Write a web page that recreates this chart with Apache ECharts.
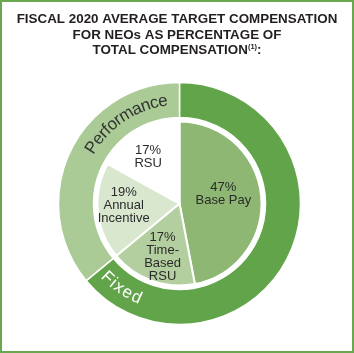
<!DOCTYPE html>
<html>
<head>
<meta charset="utf-8">
<script src="https://cdn.jsdelivr.net/npm/echarts@6/dist/echarts.min.js"></script>
<style>
  html, body { margin: 0; padding: 0; background: #fff; }
  #chart { width: 354px; height: 353px; }
</style>
</head>
<body>
<div id="chart"></div>
<script>
// 数据
const innerNames = ['Base Pay', 'Time-\nBased\nRSU', 'Annual\nIncentive', 'RSU']
const innerValues = [47, 17, 19, 17]
const outerNames = ['Fixed', 'Performance']
const outerValues = [64, 36]

// 样式
const innerColors = ['#8db772', '#b3cf9f', '#d9e7cf', '#ffffff']
const outerColors = ['#62a449', '#aacb96']
const labelShift = [[0, -5], [-2, 12], [-12, -2], [-9, -9]]
const CX = 179.5
const CY = 203.5
const FONT = 'Liberation Sans, Arial, sans-serif'

const chart = echarts.init(document.getElementById('chart'))

// 弧形文字
const measureCtx = document.createElement('canvas').getContext('2d')
const arcText = (str, centerDeg, r, size, color, bottom, spacing) => {
  measureCtx.font = size + 'px ' + FONT
  const widths = str.split('').map(ch => measureCtx.measureText(ch).width + spacing)
  const total = widths.reduce((a, b) => a + b, 0)
  const c = centerDeg * Math.PI / 180
  let acc = 0
  return str.split('').map((ch, i) => {
    const off = (acc + widths[i] / 2 - total / 2) / r
    acc += widths[i]
    const a = bottom ? c - off : c + off
    return {
      type: 'text',
      x: CX + r * Math.sin(a),
      y: CY - r * Math.cos(a),
      rotation: bottom ? Math.PI - a : -a,
      z: 10,
      style: {
        text: ch,
        fill: color,
        font: size + 'px ' + FONT,
        align: 'center',
        verticalAlign: 'middle'
      }
    }
  })
}

chart.setOption({
  animation: false,
  title: {
    left: 'center',
    top: 12,
    padding: 0,
    text: 'FISCAL 2020 AVERAGE TARGET COMPENSATION\nFOR NEOs AS PERCENTAGE OF\nTOTAL COMPENSATION{sup|(1)}{t|:}',
    textStyle: {
      fontFamily: FONT,
      fontSize: 13.4,
      fontWeight: 'bold',
      color: '#231f20',
      lineHeight: 15.5,
      rich: {
        sup: { fontFamily: FONT, fontSize: 7.5, fontWeight: 'bold', color: '#231f20', verticalAlign: 'top', padding: [0, 0, 6, 0] },
        t: { fontFamily: FONT, fontSize: 13.4, fontWeight: 'bold', color: '#231f20' }
      }
    }
  },
  graphic: [
    {
      type: 'rect',
      z: 20,
      shape: { x: 1, y: 1, width: 352, height: 351 },
      style: { fill: 'none', stroke: '#6aa84f', lineWidth: 2 }
    },
    ...arcText('Performance', 326.5, 103.5, 17, '#333333', false, 0),
    ...arcText('Fixed', 214.5, 103.5, 17, '#ffffff', true, 1)
  ],
  series: [
    {
      type: 'pie',
      center: [CX, CY],
      radius: [86, 121],
      startAngle: 90,
      clockwise: true,
      silent: true,
      label: { show: false },
      labelLine: { show: false },
      itemStyle: { borderColor: '#ffffff', borderWidth: 1.5 },
      data: outerValues.map((v, i) => ({
        name: outerNames[i],
        value: v,
        itemStyle: { color: outerColors[i] }
      }))
    },
    {
      type: 'pie',
      center: [CX, CY],
      radius: [0, 82],
      startAngle: 90,
      clockwise: true,
      silent: true,
      itemStyle: { borderColor: '#ffffff', borderWidth: 2 },
      label: {
        show: true,
        position: 'inside',
        formatter: '{c}%\n{b}',
        fontFamily: FONT,
        fontSize: 13,
        lineHeight: 13,
        color: '#2b2b2b',
        align: 'center'
      },
      labelLayout: (params) => ({
        dx: labelShift[params.dataIndex][0],
        dy: labelShift[params.dataIndex][1]
      }),
      data: innerValues.map((v, i) => ({
        name: innerNames[i],
        value: v,
        itemStyle: { color: innerColors[i] }
      }))
    }
  ]
})
</script>
</body>
</html>
